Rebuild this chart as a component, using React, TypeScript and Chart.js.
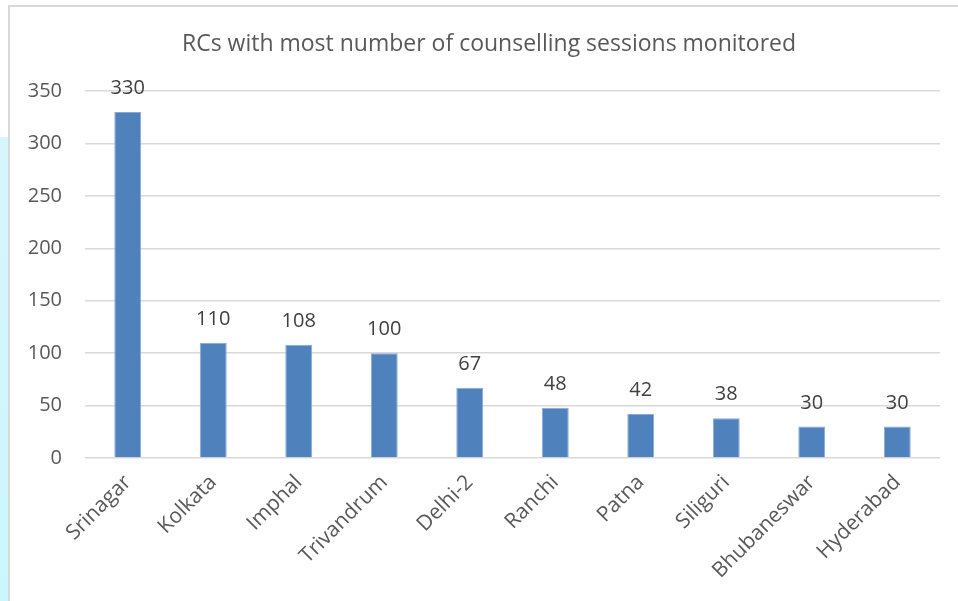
import React, { useEffect, useRef } from "react";
import { Chart, registerables } from "chart.js";

Chart.register(...registerables);

const chartTitle = "RCs with most number of counselling sessions monitored";
const categories = ["Srinagar", "Kolkata", "Imphal", "Trivandrum", "Delhi-2", "Ranchi", "Patna", "Siliguri", "Bhubaneswar", "Hyderabad"];
const sessions = [330, 110, 108, 100, 67, 48, 42, 38, 30, 30];
const yTicks = [0, 50, 100, 150, 200, 250, 300, 350];

const FONT = "'Open Sans', 'Noto Sans', sans-serif";

const overlayPlugin = {
  id: "overlay",
  afterDatasetsDraw(chart: any) {
    const ctx = chart.ctx;
    const meta = chart.getDatasetMeta(0);
    ctx.save();
    ctx.fillStyle = "#404040";
    ctx.font = `20px ${FONT}`;
    ctx.textAlign = "center";
    ctx.textBaseline = "alphabetic";
    meta.data.forEach((bar: any, i: number) => {
      ctx.fillText(String(sessions[i]), bar.x, bar.y - 18);
    });
    ctx.fillStyle = "#595959";
    ctx.font = `23px ${FONT}`;
    ctx.textBaseline = "middle";
    ctx.fillText(chartTitle, 489, 44);
    ctx.restore();
  },
};

export default function App() {
  const ref = useRef<HTMLCanvasElement>(null);
  useEffect(() => {
    if (!ref.current) return;
    const chart = new Chart(ref.current, {
      type: "bar",
      data: {
        labels: categories,
        datasets: [
          {
            data: sessions,
            backgroundColor: "#4f81bd",
            borderColor: "#8aaad4",
            borderWidth: 1,
            categoryPercentage: 1,
            barPercentage: 0.315,
          },
        ],
      },
      options: {
        responsive: false,
        animation: false,
        layout: { padding: { left: 0, right: 18, top: 91, bottom: 0 } },
        plugins: { legend: { display: false }, tooltip: { enabled: false }, title: { display: false } },
        scales: {
          x: {
            grid: { display: false, drawTicks: false },
            border: { display: false },
            ticks: {
              color: "#595959",
              font: { family: FONT, size: 21 },
              minRotation: 45,
              maxRotation: 45,
              padding: 12,
            },
            afterFit(scale: any) {
              scale.height = 143;
            },
          },
          y: {
            min: 0,
            max: 350,
            afterBuildTicks(scale: any) {
              scale.ticks = yTicks.map((v) => ({ value: v }));
            },
            grid: { color: "#d9d9d9", lineWidth: 1.5, drawTicks: false },
            border: { display: false },
            ticks: {
              color: "#595959",
              font: { family: FONT, size: 20 },
              padding: 23,
            },
            afterFit(scale: any) {
              scale.width = 85;
            },
          },
        },
      },
      plugins: [overlayPlugin],
    });
    return () => chart.destroy();
  }, []);

  return (
    <div style={{ position: "absolute", left: 0, top: 0, width: 958, height: 601, background: "#fff", overflow: "hidden" }}>
      <div style={{ position: "absolute", left: 0, top: 137, width: 8, height: 464, background: "linear-gradient(#d6f6fc, #ccf6fd)" }} />
      <div style={{ position: "absolute", left: 8, top: 5, width: 950, height: 2, background: "#d9d9d9" }} />
      <div style={{ position: "absolute", left: 8, top: 5, width: 2, height: 596, background: "#d9d9d9" }} />
      <canvas ref={ref} width={958} height={601} style={{ position: "absolute", left: 0, top: 0 }} />
    </div>
  );
}
